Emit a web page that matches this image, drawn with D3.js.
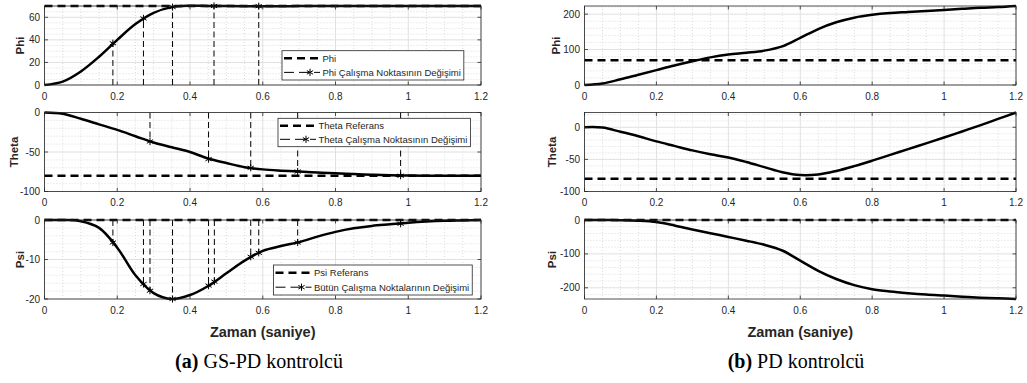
<!DOCTYPE html>
<html>
<head>
<meta charset="utf-8">
<script src="https://cdn.jsdelivr.net/npm/d3@7"></script>
<style>
  body { margin: 0; background: #fff; }
  svg { display: block; font-family: "Liberation Sans", Arial, sans-serif; }
</style>
</head>
<body>
<div id="chart"></div>
<script>
// time axis shared by all curves (seconds)
const timeSteps = [0, 0.05, 0.1, 0.15, 0.2, 0.25, 0.3, 0.35, 0.4, 0.45, 0.5, 0.55, 0.6,
  0.65, 0.7, 0.75, 0.8, 0.85, 0.9, 0.95, 1.0, 1.05, 1.1, 1.15, 1.2];
const xTicks = [0, 0.2, 0.4, 0.6, 0.8, 1, 1.2];

// (a) GS-PD controller
const gsPhi = [0, 3, 12, 25, 40, 54, 64, 69, 70.2, 70.1, 69.9, 69.8, 69.7, 69.8, 69.9, 70,
  70, 70, 70, 70, 70, 70, 70, 70, 70];
const gsTheta = [0, -1.5, -8, -15, -22, -30, -38, -44, -50, -58.3, -64, -69.2, -72, -73.6,
  -74.8, -76, -77, -78, -78.8, -79.4, -79.8, -80, -80, -80, -80];
const gsPsi = [0, 0, -0.3, -2, -7, -14, -18.5, -20, -19, -16.7, -13.5, -10.3, -7.8, -6.6,
  -5.6, -4.2, -3.0, -2.1, -1.5, -1.1, -0.7, -0.4, -0.2, -0.1, 0];

// (b) PD controller
const pdPhi = [0, 4, 16, 29, 42, 55, 67, 78, 86, 91, 97, 109, 133, 158, 177, 190, 198, 203,
  206, 209, 212, 215, 218, 220, 223];
const pdTheta = [0, -0.5, -7, -14, -22, -29, -36, -42, -47, -54, -62, -70, -74.5, -73.5,
  -68, -60.5, -52, -43, -34, -25, -16, -6.5, 3, 13, 23];
const pdPsi = [0, 0, -0.5, -2, -6, -16, -28, -39, -50, -61, -73, -90, -120, -150, -174, -192,
  -204, -211, -216, -220, -223, -226, -229, -231, -233];

// references
const phiRef = 70;
const thetaRef = -80;
const psiRef = 0;

// operating point changes
const phiPointTimes = [0.188, 0.272, 0.352, 0.466, 0.589];
const phiPointValues = [37, 59, 69, 70, 69.8];
const thetaPointTimes = [0.29, 0.451, 0.567, 0.696, 0.979];
const thetaPointValues = [-36.7, -59, -70, -74.7, -80];
const psiPointTimes = [0.188, 0.272, 0.29, 0.352, 0.451, 0.467, 0.567, 0.589, 0.696, 0.979];
const psiPointValues = [-5.7, -16.2, -17.9, -20, -16.6, -15.6, -9.3, -8.3, -5.7, -0.95];

const width = 1027, height = 383;
const ink = "#262626";

const svg = d3.select("#chart").append("svg")
  .attr("width", width)
  .attr("height", height);

const left = { x0: 44.5, x1: 481 };
const right = { x0: 584.5, x1: 1016 };
const rows = [{ y0: 6, y1: 85 }, { y0: 112.5, y1: 191.5 }, { y0: 220, y1: 299 }];

const panels = [
  { col: left, row: rows[0], values: gsPhi, domain: [0, 70], yTicks: [0, 20, 40, 60], yMinor: 5,
    label: "Phi", labelOffset: 21, ref: phiRef, ptsT: phiPointTimes, ptsV: phiPointValues,
    legend: { x: 282, y: 50.7, h: 29.3, names: ["Phi", "Phi Çalışma Noktasının Değişimi"] } },
  { col: left, row: rows[1], values: gsTheta, domain: [-100, 0], yTicks: [-100, -50, 0], yMinor: 10,
    label: "Theta", labelOffset: 27, ref: thetaRef, ptsT: thetaPointTimes, ptsV: thetaPointValues,
    legend: { x: 278, y: 118.3, h: 28.4, names: ["Theta Referans", "Theta Çalışma Noktasının Değişimi"] } },
  { col: left, row: rows[2], values: gsPsi, domain: [-20, 0], yTicks: [-20, -10, 0], yMinor: 2,
    label: "Psi", labelOffset: 21, ref: psiRef, ptsT: psiPointTimes, ptsV: psiPointValues,
    legend: { x: 273.5, y: 265, h: 30, names: ["Psi Referans", "Bütün Çalışma Noktalarının Değişimi"] } },
  { col: right, row: rows[0], values: pdPhi, domain: [0, 223], yTicks: [0, 100, 200], yMinor: 20,
    label: "Phi", labelOffset: 25, ref: phiRef },
  { col: right, row: rows[1], values: pdTheta, domain: [-100, 23], yTicks: [-100, -50, 0], yMinor: 10,
    label: "Theta", labelOffset: 28.5, ref: thetaRef },
  { col: right, row: rows[2], values: pdPsi, domain: [-233, 0], yTicks: [-200, -100, 0], yMinor: 20,
    label: "Psi", labelOffset: 28.5, ref: psiRef }
];

const star = d3.symbol().type(d3.symbolAsterisk).size(36);

function range(lo, hi, step) {
  const out = [];
  const start = Math.ceil(lo / step - 1e-9);
  for (let i = start; i * step <= hi + 1e-9; i++) out.push(+(i * step).toFixed(6));
  return out;
}

function drawPanel(p) {
  const x = d3.scaleLinear().domain([0, 1.2]).range([p.col.x0, p.col.x1]);
  const y = d3.scaleLinear().domain(p.domain).range([p.row.y1, p.row.y0]);
  const g = svg.append("g");

  // minor grid (dotted)
  const xMinor = range(0, 1.2, 0.05).filter(d => !xTicks.some(t => Math.abs(t - d) < 1e-6));
  const yMinor = range(p.domain[0], p.domain[1], p.yMinor).filter(d => !p.yTicks.includes(d));
  g.selectAll(".xmin").data(xMinor).join("line")
    .attr("x1", d => x(d)).attr("x2", d => x(d))
    .attr("y1", p.row.y0).attr("y2", p.row.y1)
    .attr("stroke", "#c4c4c4").attr("stroke-width", 0.6).attr("stroke-dasharray", "1,2");
  g.selectAll(".ymin").data(yMinor).join("line")
    .attr("x1", p.col.x0).attr("x2", p.col.x1)
    .attr("y1", d => y(d)).attr("y2", d => y(d))
    .attr("stroke", "#c4c4c4").attr("stroke-width", 0.6).attr("stroke-dasharray", "1,2");

  // major grid
  g.selectAll(".xmaj").data(xTicks).join("line")
    .attr("x1", d => x(d)).attr("x2", d => x(d))
    .attr("y1", p.row.y0).attr("y2", p.row.y1)
    .attr("stroke", "#e0e0e0").attr("stroke-width", 1);
  g.selectAll(".ymaj").data(p.yTicks).join("line")
    .attr("x1", p.col.x0).attr("x2", p.col.x1)
    .attr("y1", d => y(d)).attr("y2", d => y(d))
    .attr("stroke", "#e0e0e0").attr("stroke-width", 1);

  // operating point markers: dashed drop line from 0 to the point
  if (p.ptsT) {
    const pts = p.ptsT.map((t, i) => [t, p.ptsV[i]]);
    g.selectAll(".drop").data(pts).join("line")
      .attr("x1", d => x(d[0])).attr("x2", d => x(d[0]))
      .attr("y1", y(0)).attr("y2", d => y(d[1]))
      .attr("stroke", "#000").attr("stroke-width", 1).attr("stroke-dasharray", "6,3.5");
  }

  // reference
  g.append("line")
    .attr("x1", p.col.x0).attr("x2", p.col.x1)
    .attr("y1", y(p.ref)).attr("y2", y(p.ref))
    .attr("stroke", "#000").attr("stroke-width", 2.5).attr("stroke-dasharray", "8,5");

  // response curve
  const line = d3.line()
    .x((d, i) => x(timeSteps[i]))
    .y(d => y(d))
    .curve(d3.curveCatmullRom.alpha(0.5));
  g.append("path").datum(p.values)
    .attr("d", line)
    .attr("fill", "none").attr("stroke", "#000").attr("stroke-width", 2.5);

  if (p.ptsT) {
    g.selectAll(".star").data(p.ptsT).join("path")
      .attr("d", star)
      .attr("transform", (d, i) => `translate(${x(d)},${y(p.ptsV[i])})`)
      .attr("fill", "none").attr("stroke", "#000").attr("stroke-width", 1);
  }

  // box and inner ticks
  g.append("rect")
    .attr("x", p.col.x0).attr("y", p.row.y0)
    .attr("width", p.col.x1 - p.col.x0).attr("height", p.row.y1 - p.row.y0)
    .attr("fill", "none").attr("stroke", ink).attr("stroke-width", 0.8);
  const tk = 3.5;
  xTicks.forEach(t => {
    g.append("line").attr("x1", x(t)).attr("x2", x(t)).attr("y1", p.row.y1).attr("y2", p.row.y1 - tk)
      .attr("stroke", ink).attr("stroke-width", 0.8);
    g.append("line").attr("x1", x(t)).attr("x2", x(t)).attr("y1", p.row.y0).attr("y2", p.row.y0 + tk)
      .attr("stroke", ink).attr("stroke-width", 0.8);
  });
  p.yTicks.forEach(t => {
    g.append("line").attr("x1", p.col.x0).attr("x2", p.col.x0 + tk).attr("y1", y(t)).attr("y2", y(t))
      .attr("stroke", ink).attr("stroke-width", 0.8);
    g.append("line").attr("x1", p.col.x1).attr("x2", p.col.x1 - tk).attr("y1", y(t)).attr("y2", y(t))
      .attr("stroke", ink).attr("stroke-width", 0.8);
  });

  // tick labels
  g.selectAll(".xl").data(xTicks).join("text")
    .attr("x", d => x(d)).attr("y", p.row.y1 + 14.5)
    .attr("text-anchor", "middle").attr("font-size", 10).attr("fill", ink)
    .text(d => String(d));
  g.selectAll(".yl").data(p.yTicks).join("text")
    .attr("x", p.col.x0 - 4.5).attr("y", d => y(d) + 3.5)
    .attr("text-anchor", "end").attr("font-size", 10).attr("fill", ink)
    .text(d => String(d));

  // y label
  const lx = p.col.x0 - p.labelOffset, ly = (p.row.y0 + p.row.y1) / 2;
  g.append("text")
    .attr("transform", `translate(${lx},${ly}) rotate(-90)`)
    .attr("text-anchor", "middle").attr("font-size", 11.5).attr("font-weight", "bold")
    .attr("fill", ink).text(p.label);

  if (p.legend) drawLegend(p.legend);
}

function drawLegend(L) {
  const g = svg.append("g");
  const box = g.append("rect").attr("x", L.x).attr("y", L.y).attr("height", L.h)
    .attr("fill", "#fff").attr("stroke", ink).attr("stroke-width", 0.8);
  const r1 = L.y + L.h * 0.26, r2 = L.y + L.h * 0.74;
  g.append("line").attr("x1", L.x + 2).attr("x2", L.x + 40).attr("y1", r1).attr("y2", r1)
    .attr("stroke", "#000").attr("stroke-width", 2.5).attr("stroke-dasharray", "8,5");
  g.append("line").attr("x1", L.x + 2).attr("x2", L.x + 38).attr("y1", r2).attr("y2", r2)
    .attr("stroke", "#000").attr("stroke-width", 1).attr("stroke-dasharray", "10,5");
  g.append("path").attr("d", star).attr("transform", `translate(${L.x + 28},${r2})`)
    .attr("fill", "none").attr("stroke", "#000").attr("stroke-width", 1);
  let maxLen = 0;
  [r1, r2].forEach((r, i) => {
    const t = g.append("text").attr("x", L.x + 40.5).attr("y", r + 3.4)
      .attr("font-size", 9.5).attr("fill", ink).text(L.names[i]);
    maxLen = Math.max(maxLen, t.node().getComputedTextLength());
  });
  box.attr("width", 40.5 + maxLen + 3);
}

panels.forEach(drawPanel);

// x labels
[left, right].forEach(c => {
  svg.append("text")
    .attr("x", (c.x0 + c.x1) / 2).attr("y", 336.5)
    .attr("text-anchor", "middle").attr("font-size", 14.5).attr("font-weight", "bold")
    .attr("fill", ink).text("Zaman (saniye)");
});

// captions
const captions = [{ x: 259, tag: "(a)", text: " GS-PD kontrolcü" }, { x: 796, tag: "(b)", text: " PD kontrolcü" }];
captions.forEach(c => {
  const t = svg.append("text")
    .attr("x", c.x).attr("y", 368)
    .attr("text-anchor", "middle")
    .attr("font-family", "'Liberation Serif', 'Times New Roman', serif")
    .attr("font-size", 20).attr("fill", "#000");
  t.append("tspan").attr("font-weight", "bold").text(c.tag);
  t.append("tspan").text(c.text);
});
</script>
</body>
</html>
